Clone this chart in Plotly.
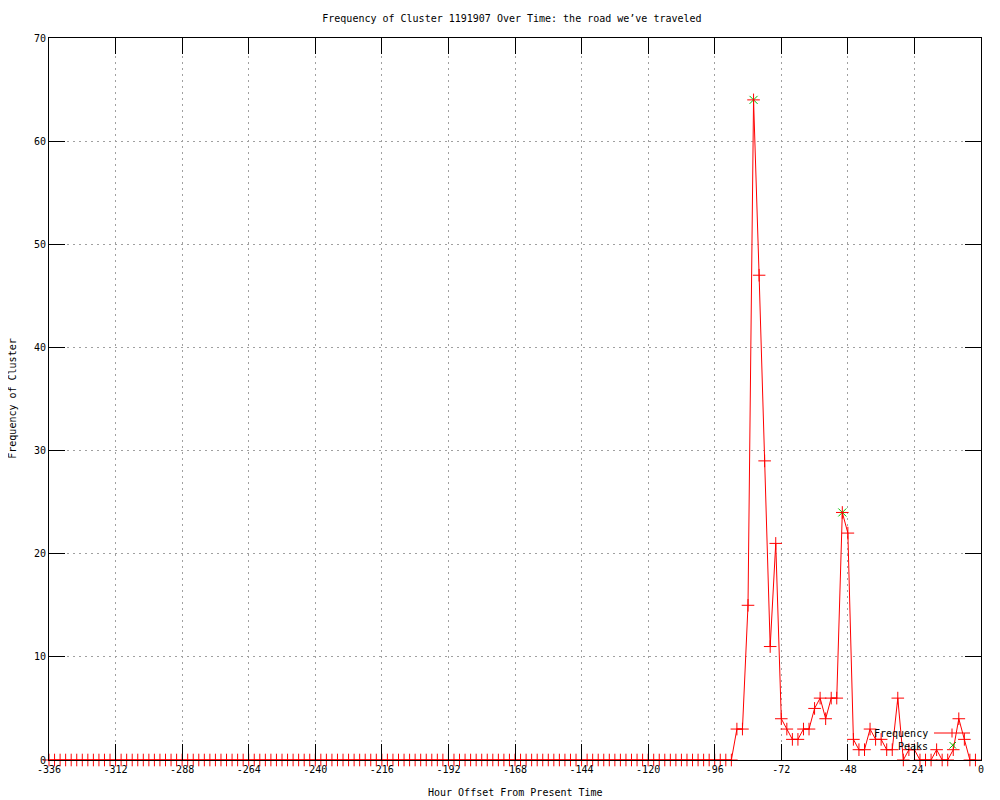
import plotly.graph_objects as go

# Hours offset (every 2 hours over 14 days)
hours = list(range(-336, 0, 2))

freq_zero_part = [
    0, 0, 0, 0, 0, 0, 0, 0, 0, 0, 0, 0, 0, 0, 0, 0, 0, 0, 0, 0,
    0, 0, 0, 0, 0, 0, 0, 0, 0, 0, 0, 0, 0, 0, 0, 0, 0, 0, 0, 0,
    0, 0, 0, 0, 0, 0, 0, 0, 0, 0, 0, 0, 0, 0, 0, 0, 0, 0, 0, 0,
    0, 0, 0, 0, 0, 0, 0, 0, 0, 0, 0, 0, 0, 0, 0, 0, 0, 0, 0, 0,
    0, 0, 0, 0, 0, 0, 0, 0, 0, 0, 0, 0, 0, 0, 0, 0, 0, 0, 0, 0,
    0, 0, 0, 0, 0, 0, 0, 0, 0, 0, 0, 0, 0, 0, 0, 0, 0, 0, 0, 0,
    0, 0, 0, 0,
]
freq_recent_part = [
    3, 3, 15, 64, 47, 29, 11, 21, 4, 3,
    2, 2, 3, 3, 5, 6, 4, 6, 6, 24,
    22, 2, 1, 1, 3, 2, 2, 1, 1, 6,
    0, 1, 1, 0, 0, 0, 1, 0, 0, 1,
    4, 2, 0, 0,
]
frequency = freq_zero_part + freq_recent_part

peak_hours = [-82, -50]
peak_values = [64, 24]

x_tick_vals = [-336, -312, -288, -264, -240, -216, -192, -168, -144, -120, -96, -72, -48, -24, 0]
x_tick_text = ["-336", "-312", "-288", "-264", "-240", "-216", "-192", "-168", "-144",
               "-120", "-96", "-72", "-48", "-24", "0"]
y_tick_vals = [0, 10, 20, 30, 40, 50, 60, 70]
y_tick_text = ["0", "10", "20", "30", "40", "50", "60", "70"]

FONT = "DejaVu Sans Mono"
RED = "#ff0000"
GREEN = "#00c000"

fig = go.Figure()
fig.add_trace(go.Scatter(
    x=peak_hours, y=peak_values, mode="markers", name="Peaks",
    marker=dict(symbol="x-thin", size=8, line=dict(color=GREEN, width=1)),
    cliponaxis=False, showlegend=False,
))
fig.add_trace(go.Scatter(
    x=hours, y=frequency, mode="lines+markers", name="Frequency",
    line=dict(color=RED, width=1),
    marker=dict(symbol="cross-thin", size=9, line=dict(color=RED, width=1)),
    cliponaxis=False, showlegend=False,
))

axis_common = dict(
    showline=True, linecolor="black", linewidth=1, mirror="ticks",
    ticks="inside", ticklen=16, tickcolor="black", tickwidth=1,
    showgrid=True, gridcolor="#a0a0a0", griddash="2px,4px", gridwidth=1,
    zeroline=False, tickfont=dict(family=FONT, size=10, color="black"),
)

# Key (gnuplot style: text right-aligned, sample to the right), paper coords
PW, PH = 932.0, 722.0
def px(xpix):
    return (xpix - 49) / PW
def py(ypix):
    return (760 - ypix) / PH

key_shapes = [
    # Frequency sample line and "+" point
    dict(type="line", xref="paper", yref="paper", x0=px(934), x1=px(970), y0=py(733), y1=py(733),
         line=dict(color=RED, width=1)),
    dict(type="line", xref="paper", yref="paper", x0=px(952), x1=px(952), y0=py(728.5), y1=py(737.5),
         line=dict(color=RED, width=1)),
    # Peaks sample "x" point
    dict(type="line", xref="paper", yref="paper", x0=px(949.5), x1=px(956), y0=py(742), y1=py(748.5),
         line=dict(color=GREEN, width=1)),
    dict(type="line", xref="paper", yref="paper", x0=px(949.5), x1=px(956), y0=py(748.5), y1=py(742),
         line=dict(color=GREEN, width=1)),
]

fig.update_layout(
    width=992, height=792,
    paper_bgcolor="white", plot_bgcolor="white",
    margin=dict(l=41, r=19, t=30, b=40),
    title=dict(text="Frequency of Cluster 1191907 Over Time: the road we\u2019ve traveled",
               x=0.508, xanchor="center", y=0.987, yanchor="middle",
               font=dict(family=FONT, size=10, color="black")),
    xaxis=dict(range=[-336, 0], tickvals=x_tick_vals, ticktext=x_tick_text, **axis_common),
    yaxis=dict(range=[0, 70], tickvals=y_tick_vals, ticktext=y_tick_text, **axis_common),
    showlegend=False,
    shapes=key_shapes,
    annotations=[
        dict(text="Hour Offset From Present Time", xref="paper", yref="paper",
             x=0.5, y=-0.045, xanchor="center", yanchor="middle", showarrow=False,
             font=dict(family=FONT, size=10, color="black")),
        dict(text="Frequency of Cluster", xref="paper", yref="paper",
             x=-0.040, y=0.5, xanchor="center", yanchor="middle", showarrow=False,
             textangle=-90, font=dict(family=FONT, size=10, color="black")),
        dict(text="Frequency", xref="paper", yref="paper",
             x=px(930), y=py(733), xanchor="right", yanchor="middle", showarrow=False,
             font=dict(family=FONT, size=10, color="black")),
        dict(text="Peaks", xref="paper", yref="paper",
             x=px(930), y=py(746), xanchor="right", yanchor="middle", showarrow=False,
             font=dict(family=FONT, size=10, color="black")),
    ],
)

fig.write_html("out.html")
